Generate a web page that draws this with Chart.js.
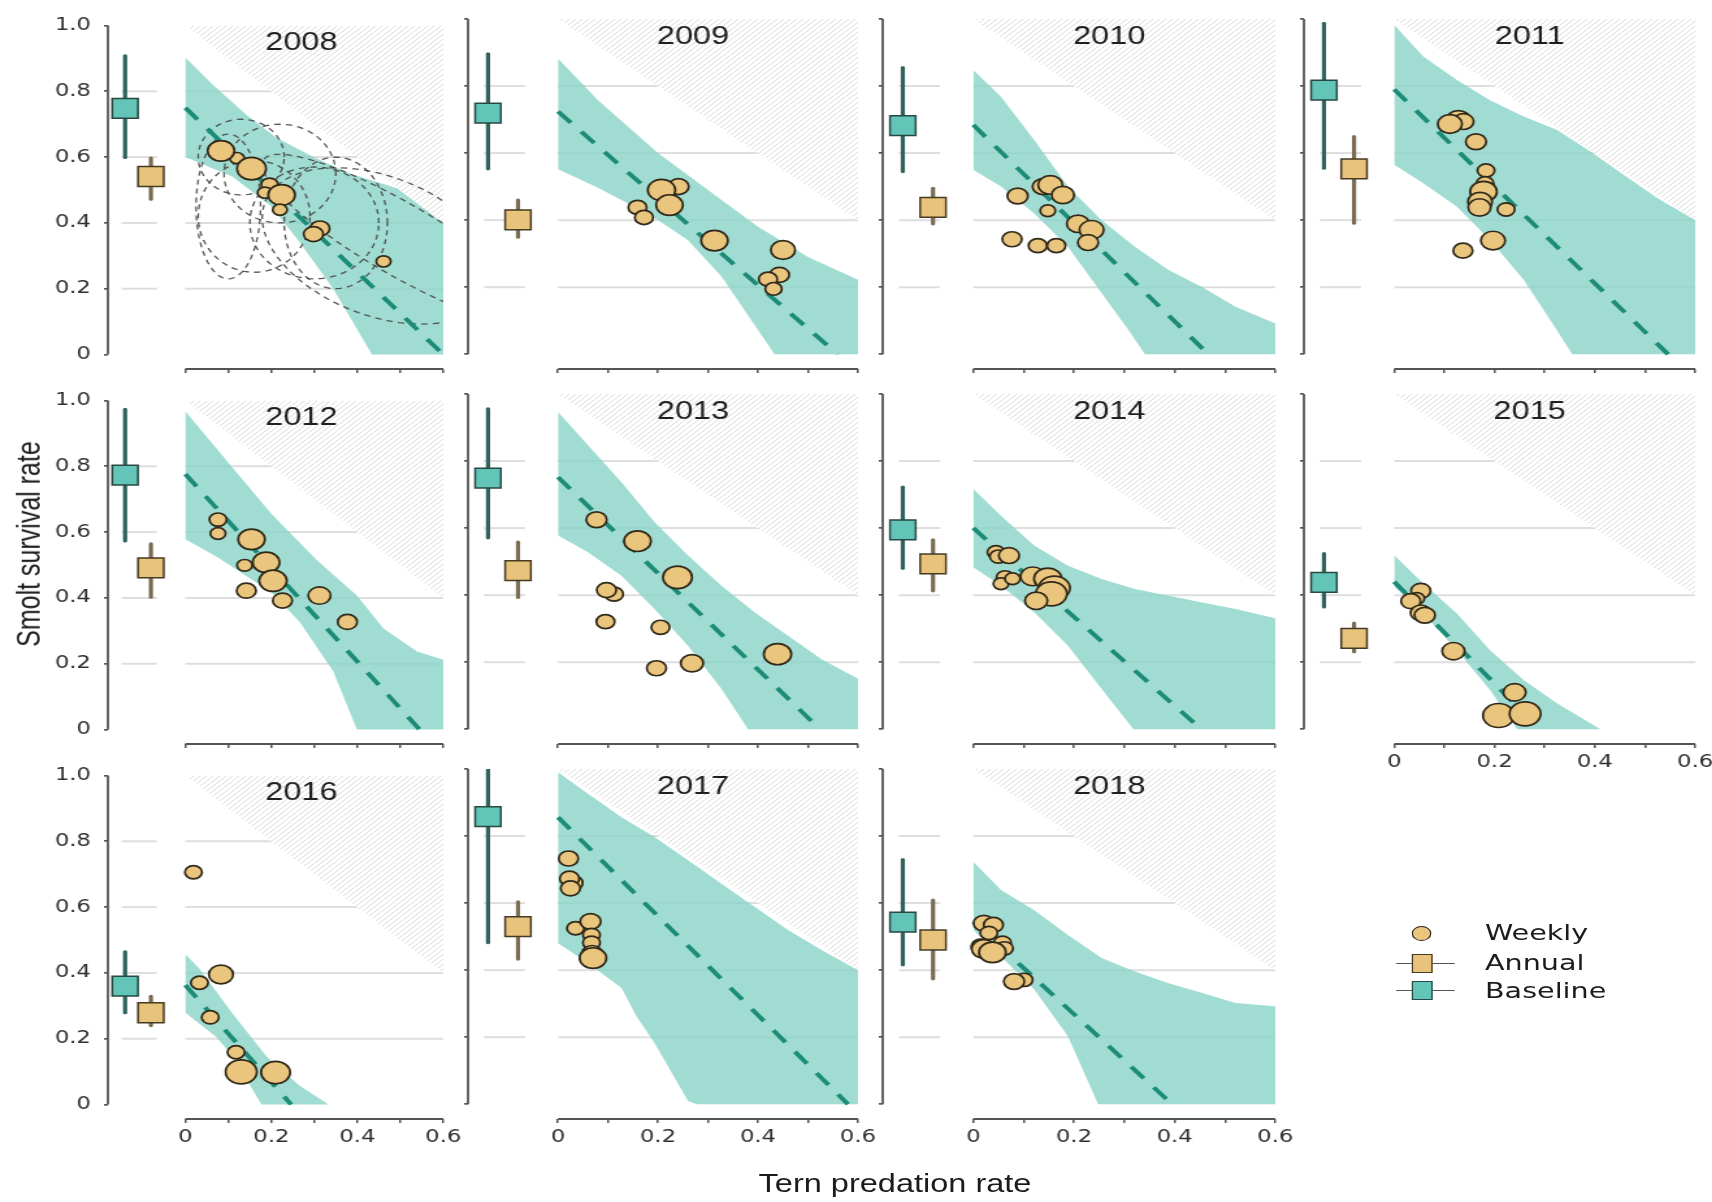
<!DOCTYPE html>
<html>
<head>
<meta charset="utf-8">
<title>Smolt survival and tern predation, 2008–2018</title>
<script src="https://cdn.jsdelivr.net/npm/chart.js@4.4.1/dist/chart.umd.min.js"></script>
<style>
  html, body { margin: 0; padding: 0; background: #ffffff; }
  body { width: 1712px; height: 1202px; overflow: hidden; position: relative; }
  /* the whole figure is drawn 1.3x wider than tall */
  #stage { position: absolute; left: 0; top: 0; width: 1317px; height: 1202px; transform: scaleX(1.3); transform-origin: 0 0; }
  #stage canvas { position: absolute; }
  .txt { position: absolute; white-space: nowrap; font-family: "DejaVu Sans", sans-serif; color: #1c1c1c; line-height: 1; }
  .sym { position: absolute; box-sizing: border-box; }
</style>
</head>
<body>
<div id="stage"></div>
<script>
// ---------------- data ----------------
const years = [2008, 2009, 2010, 2011, 2012, 2013, 2014, 2015, 2016, 2017, 2018];

// baseline survival (no predation) estimate and interval
const baselineEst = [0.748, 0.719, 0.682, 0.788, 0.773, 0.749, 0.595, 0.438, 0.360, 0.858, 0.543];
const baselineLo  = [0.599, 0.553, 0.545, 0.555, 0.573, 0.571, 0.480, 0.365, 0.279, 0.482, 0.416];
const baselineHi  = [0.908, 0.896, 0.855, 0.987, 0.973, 0.956, 0.722, 0.524, 0.464, 0.997, 0.730];

// annual survival estimate and interval
const annualEst = [0.541, 0.401, 0.438, 0.553, 0.491, 0.473, 0.493, 0.271, 0.279, 0.530, 0.490];
const annualLo  = [0.472, 0.349, 0.389, 0.391, 0.402, 0.393, 0.413, 0.231, 0.240, 0.433, 0.374];
const annualHi  = [0.597, 0.460, 0.495, 0.649, 0.564, 0.558, 0.565, 0.317, 0.329, 0.604, 0.609];

// fitted survival line: value at zero predation, predation rate where it reaches zero
const fitIntercept = [0.750, 0.724, 0.684, 0.790, 0.776, 0.752, 0.600, 0.440, 0.363, 0.856, 0.544];
const fitZero      = [0.600, 0.559, 0.467, 0.546, 0.545, 0.524, 0.453, 0.290, 0.246, 0.580, 0.395];

// credible band of the fit: [predation, survival] along the upper and lower edge
const upperBand = [
  [[0,0.903],[0.064,0.82],[0.142,0.729],[0.212,0.659],[0.298,0.60],[0.383,0.55],[0.492,0.505],[0.6,0.40]],
  [[0,0.882],[0.08,0.758],[0.2,0.60],[0.3,0.49],[0.4,0.38],[0.5,0.29],[0.6,0.222]],
  [[0,0.848],[0.055,0.768],[0.121,0.639],[0.188,0.50],[0.255,0.40],[0.321,0.321],[0.388,0.251],[0.455,0.20],[0.521,0.142],[0.6,0.092]],
  [[0,0.982],[0.058,0.888],[0.125,0.818],[0.191,0.758],[0.258,0.709],[0.325,0.669],[0.391,0.605],[0.458,0.535],[0.525,0.465],[0.6,0.40]],
  [[0,0.967],[0.072,0.855],[0.2,0.656],[0.305,0.516],[0.399,0.407],[0.461,0.307],[0.539,0.237],[0.6,0.212]],
  [[0,0.946],[0.06,0.847],[0.127,0.737],[0.193,0.618],[0.26,0.518],[0.327,0.428],[0.393,0.349],[0.46,0.279],[0.527,0.209],[0.6,0.151]],
  [[0,0.717],[0.055,0.637],[0.121,0.548],[0.188,0.488],[0.255,0.448],[0.321,0.418],[0.388,0.398],[0.455,0.378],[0.521,0.359],[0.6,0.331]],
  [[0,0.519],[0.058,0.435],[0.125,0.345],[0.191,0.236],[0.258,0.147],[0.325,0.077],[0.411,0]],
  [[0,0.457],[0.033,0.413],[0.111,0.274],[0.189,0.146],[0.266,0.057],[0.333,0]],
  [[0,0.99],[0.06,0.926],[0.127,0.856],[0.193,0.797],[0.26,0.728],[0.327,0.658],[0.393,0.589],[0.46,0.52],[0.527,0.46],[0.6,0.40]],
  [[0,0.723],[0.055,0.639],[0.121,0.579],[0.188,0.505],[0.255,0.436],[0.321,0.396],[0.388,0.361],[0.455,0.332],[0.521,0.302],[0.6,0.292]]
];
const lowerBand = [
  [[0,0.60],[0.11,0.54],[0.2,0.45],[0.266,0.341],[0.344,0.20],[0.434,0],[0.6,0]],
  [[0,0.552],[0.08,0.497],[0.19,0.41],[0.26,0.34],[0.327,0.232],[0.433,0],[0.6,0]],
  [[0,0.55],[0.055,0.50],[0.121,0.42],[0.188,0.321],[0.255,0.182],[0.308,0.073],[0.341,0],[0.6,0]],
  [[0,0.565],[0.058,0.51],[0.125,0.44],[0.191,0.341],[0.258,0.222],[0.311,0.102],[0.355,0],[0.6,0]],
  [[0,0.578],[0.072,0.526],[0.2,0.417],[0.266,0.327],[0.344,0.177],[0.399,0],[0.6,0]],
  [[0,0.578],[0.06,0.528],[0.127,0.458],[0.193,0.359],[0.26,0.249],[0.327,0.12],[0.38,0],[0.6,0]],
  [[0,0.483],[0.055,0.428],[0.121,0.349],[0.188,0.249],[0.255,0.12],[0.318,0],[0.6,0]],
  [[0,0.425],[0.058,0.345],[0.125,0.236],[0.191,0.117],[0.245,0],[0.411,0]],
  [[0,0.279],[0.072,0.205],[0.111,0.146],[0.177,0],[0.333,0]],
  [[0,0.48],[0.06,0.421],[0.127,0.347],[0.157,0.262],[0.193,0.183],[0.26,0.01],[0.277,0],[0.6,0]],
  [[0,0.52],[0.055,0.441],[0.121,0.342],[0.188,0.203],[0.248,0],[0.6,0]]
];

// weekly release groups: tern predation rate, smolt survival rate, relative group size
const weeklyPred = [
  [0.120, 0.083, 0.154, 0.196, 0.185, 0.224, 0.220, 0.313, 0.298, 0.461],
  [0.241, 0.207, 0.223, 0.159, 0.172, 0.313, 0.450, 0.443, 0.420, 0.431],
  [0.138, 0.153, 0.178, 0.088, 0.148, 0.208, 0.235, 0.228, 0.077, 0.128, 0.165],
  [0.128, 0.138, 0.111, 0.163, 0.183, 0.181, 0.178, 0.171, 0.170, 0.223, 0.197, 0.137],
  [0.076, 0.076, 0.154, 0.138, 0.188, 0.204, 0.142, 0.226, 0.312, 0.377],
  [0.077, 0.159, 0.239, 0.112, 0.097, 0.095, 0.205, 0.197, 0.268, 0.439],
  [0.045, 0.050, 0.071, 0.063, 0.055, 0.078, 0.118, 0.148, 0.161, 0.155, 0.125],
  [0.053, 0.045, 0.033, 0.053, 0.061, 0.118, 0.240, 0.208, 0.261],
  [0.019, 0.033, 0.083, 0.058, 0.118, 0.200, 0.130, 0.210],
  [0.021, 0.030, 0.023, 0.025, 0.035, 0.065, 0.067, 0.067, 0.068, 0.070],
  [0.021, 0.040, 0.031, 0.015, 0.058, 0.062, 0.021, 0.038, 0.101, 0.081]
];
const weeklySurv = [
  [0.597, 0.619, 0.565, 0.517, 0.492, 0.485, 0.440, 0.383, 0.366, 0.283],
  [0.500, 0.490, 0.445, 0.438, 0.408, 0.339, 0.311, 0.237, 0.224, 0.195],
  [0.500, 0.505, 0.475, 0.472, 0.428, 0.389, 0.371, 0.333, 0.343, 0.324, 0.324],
  [0.699, 0.694, 0.687, 0.634, 0.548, 0.510, 0.485, 0.455, 0.438, 0.432, 0.339, 0.309],
  [0.638, 0.596, 0.578, 0.499, 0.508, 0.452, 0.422, 0.392, 0.407, 0.327],
  [0.625, 0.561, 0.453, 0.403, 0.415, 0.321, 0.304, 0.182, 0.197, 0.224],
  [0.528, 0.515, 0.518, 0.453, 0.434, 0.449, 0.456, 0.449, 0.421, 0.404, 0.383],
  [0.413, 0.390, 0.382, 0.347, 0.340, 0.233, 0.110, 0.041, 0.046],
  [0.706, 0.370, 0.395, 0.265, 0.159, 0.100, 0.099, 0.097],
  [0.733, 0.660, 0.673, 0.644, 0.525, 0.545, 0.505, 0.482, 0.450, 0.436],
  [0.540, 0.535, 0.511, 0.470, 0.482, 0.465, 0.463, 0.453, 0.371, 0.366]
];
const weeklyN = [
  [5, 17, 20, 6.5, 5, 17, 5, 9, 9, 5],
  [10, 18, 17, 8, 8, 17, 14, 9, 8, 6.5],
  [10, 14, 12, 10, 5.5, 12, 14, 10, 9, 8, 8],
  [14, 10, 14, 10, 7, 7, 17, 14, 12, 7, 14, 9],
  [7, 5.5, 17, 5.5, 17, 18, 9, 9, 12, 9],
  [10, 17, 20, 8, 9, 8, 8, 9, 12, 18],
  [7, 7, 10, 7, 5.5, 5.5, 14, 18, 23, 23, 12],
  [9, 5.5, 9, 10, 10, 12, 12, 23, 23],
  [7, 7, 14, 7, 7, 9, 23, 20],
  [9, 9, 9, 9, 7, 10, 7, 7, 10, 17],
  [10, 9, 7, 9, 7, 7, 14, 17, 7, 10]
];

// 2008 joint-uncertainty contours: centre, half-axes and tilt (degrees)
const contourCx    = [0.13, 0.10, 0.16, 0.22, 0.30, 0.35, 0.45, 0.50];
const contourCy    = [0.60, 0.45, 0.42, 0.55, 0.40, 0.40, 0.33, 0.35];
const contourA     = [0.10, 0.075, 0.13, 0.13, 0.15, 0.12, 0.30, 0.40];
const contourB     = [0.115, 0.22, 0.17, 0.15, 0.17, 0.20, 0.20, 0.10];
const contourAngle = [0, 0, 0, 0, 0, 0, -35, -38];

// axes
const yTickValues = [0, 0.2, 0.4, 0.6, 0.8, 1.0];
const yTickLabels = ['0', '0.2', '0.4', '0.6', '0.8', '1.0'];
const xTickValues = [0, 0.1, 0.2, 0.3, 0.4, 0.5, 0.6];
const xTickLabels = ['0', '', '0.2', '', '0.4', '', '0.6'];
const gridValues = [0.2, 0.4, 0.6, 0.8];

const legendLabels = ['Weekly', 'Annual', 'Baseline'];
const xTitle = 'Tern predation rate';
const yTitle = 'Smolt survival rate';

// ---------------- layout & style ----------------
const S = 1.3;                                   // horizontal stretch of #stage
const colLeft  = [108, 468.3, 883.3, 1303.3];    // page px of the y axis line
const colRight = [443, 858.3, 1276, 1694.3];     // page px of predation 0.6
const rowTop   = [19, 393.5, 768.5];             // page px of survival 1.0
const PX_PER_UNIT = 335;
const X_MIN = -0.18, X_MAX = 0.6, Y_MIN = -0.044, Y_MAX = 1.0;
const Y_AXIS_W = 58, X_AXIS_H = 38, PAD_TOP = 14, PAD_RIGHT = 20;
const BASE_X = -0.14, ANNUAL_X = -0.08;
const gridSpans = [[-0.148, -0.066], [0, 0.6]];

const AXIS_COLOR = '#555555';
const TICK_COLOR = '#2f2f2f';
const GRID_COLOR = 'rgb(222,222,222)';
const BAND_FILL = 'rgba(136,211,199,0.80)';
const FIT_COLOR = 'rgb(28,140,120)';
const BASE_FILL = 'rgb(98,197,183)', BASE_EDGE = 'rgb(40,72,66)', BASE_BAR = 'rgb(47,98,90)';
const ANN_FILL = 'rgb(231,195,124)', ANN_EDGE = 'rgb(70,58,34)', ANN_BAR = 'rgb(122,107,82)';
const WEEK_FILL = 'rgb(233,197,126)', WEEK_EDGE = 'rgb(48,40,24)';
const CONTOUR_COLOR = 'rgba(70,70,70,0.9)';
const HATCH_COLOR = 'rgb(216,216,216)';

const stage = document.getElementById('stage');

function hatchPattern(ctx) {
  const t = document.createElement('canvas');
  t.width = 5; t.height = 5;
  const g = t.getContext('2d');
  g.fillStyle = '#ffffff';
  g.fillRect(0, 0, 5, 5);
  g.strokeStyle = HATCH_COLOR;
  g.lineWidth = 0.9;
  g.beginPath();
  g.moveTo(-1, 6); g.lineTo(6, -1);
  g.moveTo(-1, 1); g.lineTo(1, -1);
  g.moveTo(4, 6); g.lineTo(6, 4);
  g.stroke();
  return ctx.createPattern(t, 'repeat');
}

function ellipsePoints(k) {
  const pts = [];
  const th = contourAngle[k] * Math.PI / 180;
  for (let j = 0; j <= 72; j++) {
    const t = j / 72 * 2 * Math.PI;
    const u = contourA[k] * Math.cos(t), v = contourB[k] * Math.sin(t);
    pts.push({ x: contourCx[k] + u * Math.cos(th) - v * Math.sin(th),
               y: contourCy[k] + u * Math.sin(th) + v * Math.cos(th) });
  }
  return pts;
}

// grid segments, axis lines and the year label
const panelDecor = {
  id: 'panelDecor',
  beforeDatasetsDraw(chart) {
    const { ctx, scales: { x, y } } = chart;
    ctx.save();
    ctx.strokeStyle = GRID_COLOR;
    ctx.lineWidth = 2;
    for (const v of gridValues) {
      const py = y.getPixelForValue(v);
      for (const [a, b] of gridSpans) {
        ctx.beginPath();
        ctx.moveTo(x.getPixelForValue(a), py);
        ctx.lineTo(x.getPixelForValue(b), py);
        ctx.stroke();
      }
    }
    ctx.strokeStyle = AXIS_COLOR;
    ctx.lineWidth = 1.8;
    ctx.beginPath();
    ctx.moveTo(x.left, y.getPixelForValue(0));
    ctx.lineTo(x.left, y.getPixelForValue(1));
    ctx.stroke();
    ctx.lineWidth = 2.2;
    ctx.beginPath();
    ctx.moveTo(x.getPixelForValue(0), y.bottom);
    ctx.lineTo(x.getPixelForValue(0.6), y.bottom);
    ctx.stroke();
    ctx.restore();
  },
  afterDatasetsDraw(chart, args, opts) {
    const { ctx, scales: { x, y } } = chart;
    ctx.save();
    ctx.font = '25px "Liberation Sans", Arial, sans-serif';
    ctx.fillStyle = '#1e1e1e';
    ctx.textAlign = 'center';
    ctx.textBaseline = 'middle';
    ctx.fillText(opts.label, x.getPixelForValue(0.27), y.getPixelForValue(0.947));
    ctx.restore();
  }
};

function buildPanel(i) {
  const row = Math.floor(i / 4), col = i % 4;
  const showX = row === 2 || (row === 1 && col === 3);
  const showY = col === 0;
  const areaL = colLeft[col] / S, areaR = colRight[col] / S;
  const areaT = rowTop[row], areaB = rowTop[row] + (Y_MAX - Y_MIN) * PX_PER_UNIT;
  const w = Math.round(Y_AXIS_W + (areaR - areaL) + PAD_RIGHT);
  const h = Math.round(PAD_TOP + (areaB - areaT) + X_AXIS_H);

  const cv = document.createElement('canvas');
  cv.width = w; cv.height = h;
  cv.style.width = w + 'px'; cv.style.height = h + 'px';
  cv.style.left = (areaL - Y_AXIS_W).toFixed(2) + 'px';
  cv.style.top = (areaT - PAD_TOP).toFixed(2) + 'px';
  stage.appendChild(cv);
  const ctx = cv.getContext('2d');

  const line = (data, extra) => Object.assign({
    type: 'line', data, pointRadius: 0, tension: 0, fill: false,
    borderWidth: 0, borderColor: 'rgba(0,0,0,0)'
  }, extra);

  const datasets = [];
  // infeasible region: survival + predation > 1
  datasets.push(line([{ x: 0, y: 1 }, { x: 0.6, y: 0.4 }], { fill: 'end', backgroundColor: hatchPattern(ctx), order: 20 }));
  // credible band
  datasets.push(line(lowerBand[i].map(p => ({ x: p[0], y: p[1] })), { order: 19 }));
  datasets.push(line(upperBand[i].map(p => ({ x: p[0], y: p[1] })), { fill: '-1', backgroundColor: BAND_FILL, order: 18 }));
  // contours
  if (years[i] === 2008) {
    for (let k = 0; k < contourCx.length; k++) {
      datasets.push(line(ellipsePoints(k), { borderWidth: 1.3, borderColor: CONTOUR_COLOR, borderDash: [5, 4], order: 15 }));
    }
  }
  // fitted line
  datasets.push(line([{ x: 0, y: fitIntercept[i] }, { x: fitZero[i], y: 0 }],
    { borderWidth: 3.8, borderColor: FIT_COLOR, borderDash: [15, 12], order: 14 }));
  // interval bars
  datasets.push(line([{ x: BASE_X, y: baselineLo[i] }, { x: BASE_X, y: baselineHi[i] }],
    { borderWidth: 3.2, borderColor: BASE_BAR, borderCapStyle: 'round', order: 13 }));
  datasets.push(line([{ x: ANNUAL_X, y: annualLo[i] }, { x: ANNUAL_X, y: annualHi[i] }],
    { borderWidth: 3.2, borderColor: ANN_BAR, borderCapStyle: 'round', order: 13 }));
  // point estimates
  datasets.push({ type: 'scatter', data: [{ x: BASE_X, y: baselineEst[i] }], pointStyle: 'rect', pointRadius: 14,
    backgroundColor: BASE_FILL, borderColor: BASE_EDGE, borderWidth: 1.5, order: 11 });
  datasets.push({ type: 'scatter', data: [{ x: ANNUAL_X, y: annualEst[i] }], pointStyle: 'rect', pointRadius: 14,
    backgroundColor: ANN_FILL, borderColor: ANN_EDGE, borderWidth: 1.5, order: 11 });
  // weekly groups
  datasets.push({ type: 'scatter',
    data: weeklyPred[i].map((p, j) => ({ x: p, y: weeklySurv[i][j] })),
    pointRadius: weeklyN[i].map(n => 2.5 * Math.sqrt(n)),
    backgroundColor: WEEK_FILL, borderColor: WEEK_EDGE, borderWidth: 1.7, order: 1 });

  const tickFont = { family: 'DejaVu Sans', size: 17.5 };
  new Chart(ctx, {
    type: 'scatter',
    data: { datasets },
    plugins: [panelDecor],
    options: {
      responsive: false,
      animation: false,
      events: [],
      devicePixelRatio: 1,
      layout: { padding: { top: PAD_TOP, right: PAD_RIGHT, left: 0, bottom: 0 }, autoPadding: false },
      plugins: {
        legend: { display: false },
        tooltip: { enabled: false },
        panelDecor: { label: String(years[i]) }
      },
      scales: {
        x: {
          type: 'linear', min: X_MIN, max: X_MAX,
          afterBuildTicks: s => { s.ticks = xTickValues.map(v => ({ value: v })); },
          afterFit: s => { s.height = X_AXIS_H; },
          border: { display: false },
          grid: { drawOnChartArea: false, drawTicks: true, tickLength: 4, color: AXIS_COLOR, lineWidth: 1.5 },
          ticks: { display: showX, autoSkip: false, maxRotation: 0, padding: 4, font: tickFont, color: TICK_COLOR,
                   callback: (v, idx) => xTickLabels[idx] }
        },
        y: {
          type: 'linear', min: Y_MIN, max: Y_MAX,
          afterBuildTicks: s => { s.ticks = yTickValues.map(v => ({ value: v })); },
          afterFit: s => { s.width = Y_AXIS_W; },
          border: { display: false },
          grid: { drawOnChartArea: false, drawTicks: true, tickLength: 3, color: AXIS_COLOR, lineWidth: 1.7 },
          ticks: { display: showY, autoSkip: false, padding: 10, font: tickFont, color: TICK_COLOR,
                   callback: (v, idx) => yTickLabels[idx] }
        }
      }
    }
  });
}

years.forEach((yr, i) => buildPanel(i));

// ---------------- axis titles ----------------
function addText(str, leftPx, topPx, css) {
  const d = document.createElement('div');
  d.className = 'txt';
  d.textContent = str;
  d.style.left = leftPx + 'px';
  d.style.top = topPx + 'px';
  Object.assign(d.style, css || {});
  stage.appendChild(d);
  return d;
}
addText(xTitle, 895 / S, 1182.5, { fontFamily: '"Liberation Sans", Arial, sans-serif', fontSize: '25px',
  transform: 'translate(-50%, -50%)' });
addText(yTitle, 28 / S, 544, { fontFamily: '"Liberation Sans", Arial, sans-serif', fontSize: '25px',
  transform: 'translate(-50%, -50%) rotate(-90deg)' });

// ---------------- legend ----------------
const legendRowsY = [933.3, 963.3, 990.7];
const symX = 1421.7 / S;
function addSym(css) {
  const d = document.createElement('div');
  d.className = 'sym';
  Object.assign(d.style, css);
  stage.appendChild(d);
}
// weekly circle
addSym({ left: (symX - 7.3) + 'px', top: (legendRowsY[0] - 7.3) + 'px', width: '14.6px', height: '14.6px',
         borderRadius: '50%', background: WEEK_FILL, border: '1.5px solid ' + WEEK_EDGE });
// annual and baseline: line with square
[[ANN_FILL, ANN_EDGE], [BASE_FILL, BASE_EDGE]].forEach(([fillC, edgeC], k) => {
  const yc = legendRowsY[k + 1];
  addSym({ left: (1396.7 / S) + 'px', top: (yc - 0.8) + 'px', width: ((1455 - 1396.7) / S) + 'px', height: '1.6px', background: '#555' });
  addSym({ left: (symX - 8) + 'px', top: (yc - 9.5) + 'px', width: '16px', height: '19px', background: fillC, border: '1.5px solid ' + edgeC });
});
legendLabels.forEach((lab, k) => {
  addText(lab, 1485 / S, legendRowsY[k], { fontSize: '22px', transform: 'translateY(-50%)' });
});
</script>
</body>
</html>
